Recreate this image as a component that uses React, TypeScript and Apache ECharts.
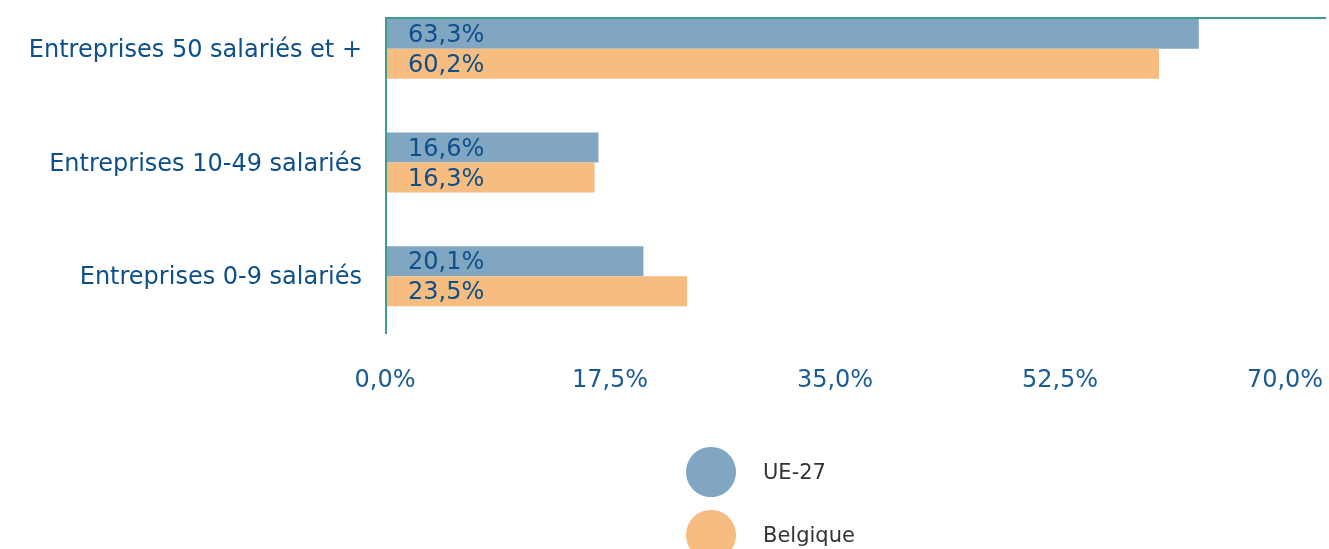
import React, { useEffect, useRef } from "react";
import * as echarts from "echarts";

const categories = [
  "Entreprises 50 salariés et +",
  "Entreprises 10-49 salariés",
  "Entreprises 0-9 salariés",
];
const ueValues = [63.3, 16.6, 20.1];
const beValues = [60.2, 16.3, 23.5];
const seriesNames = ["UE-27", "Belgique"];

const FONT = "DejaVu Sans";
const fmt = (v: number) => v.toFixed(1).replace(".", ",") + "%";
// chart canvas starts 8px above the page top
const OFF = 8;

export default function App() {
  const ref = useRef<HTMLDivElement>(null);
  useEffect(() => {
    if (!ref.current) return;
    const chart = echarts.init(ref.current, null, { renderer: "svg" });
    const legendBase = {
      orient: "vertical",
      left: 686,
      icon: "circle",
      itemWidth: 50,
      itemHeight: 50,
      padding: 0,
      textStyle: { fontFamily: FONT, fontSize: 21, color: "#333", padding: [0, 0, 0, 22] },
    };
    const barLabel = {
      show: true,
      position: "insideLeft",
      distance: 23,
      formatter: (p: any) => fmt(p.value),
      color: "#0d4f8b",
      fontFamily: FONT,
      fontSize: 24,
    };
    chart.setOption({
      animation: false,
      grid: { left: 385, right: 44, top: 0, bottom: 216 },
      legend: [
        { ...legendBase, top: 447 + OFF, data: [seriesNames[0]] },
        { ...legendBase, top: 510 + OFF, data: [seriesNames[1]] },
      ],
      xAxis: {
        type: "value",
        min: 0,
        max: 70,
        interval: 17.5,
        axisLine: { show: false },
        axisTick: { show: false },
        splitLine: { show: false },
        axisLabel: {
          formatter: (v: number) => fmt(v),
          color: "#1a5b96",
          fontFamily: FONT,
          fontSize: 24,
          margin: 34,
        },
      },
      yAxis: {
        type: "category",
        data: categories,
        inverse: true,
        axisLine: { show: false },
        axisTick: { show: false },
        axisLabel: { color: "#0d4f8b", fontFamily: FONT, fontSize: 24, margin: 23 },
      },
      graphic: [
        { type: "line", shape: { x1: 385, y1: 18 + OFF, x2: 1326, y2: 18 + OFF }, style: { stroke: "#3d9a96", lineWidth: 2 }, z: 10 },
        { type: "line", shape: { x1: 386, y1: 17 + OFF, x2: 386, y2: 334 + OFF }, style: { stroke: "#3d9a96", lineWidth: 2 }, z: 10 },
      ],
      series: [
        {
          name: seriesNames[0],
          type: "bar",
          data: ueValues,
          barWidth: 30,
          barGap: "0%",
          itemStyle: { color: "#80a6c2" },
          label: barLabel,
        },
        {
          name: seriesNames[1],
          type: "bar",
          data: beValues,
          barWidth: 30,
          barGap: "0%",
          itemStyle: { color: "#f6bc80" },
          label: barLabel,
        },
      ],
    });
    return () => chart.dispose();
  }, []);
  return (
    <div
      ref={ref}
      style={{ position: "fixed", left: 0, top: -OFF, width: 1329, height: 549 + OFF }}
    />
  );
}
